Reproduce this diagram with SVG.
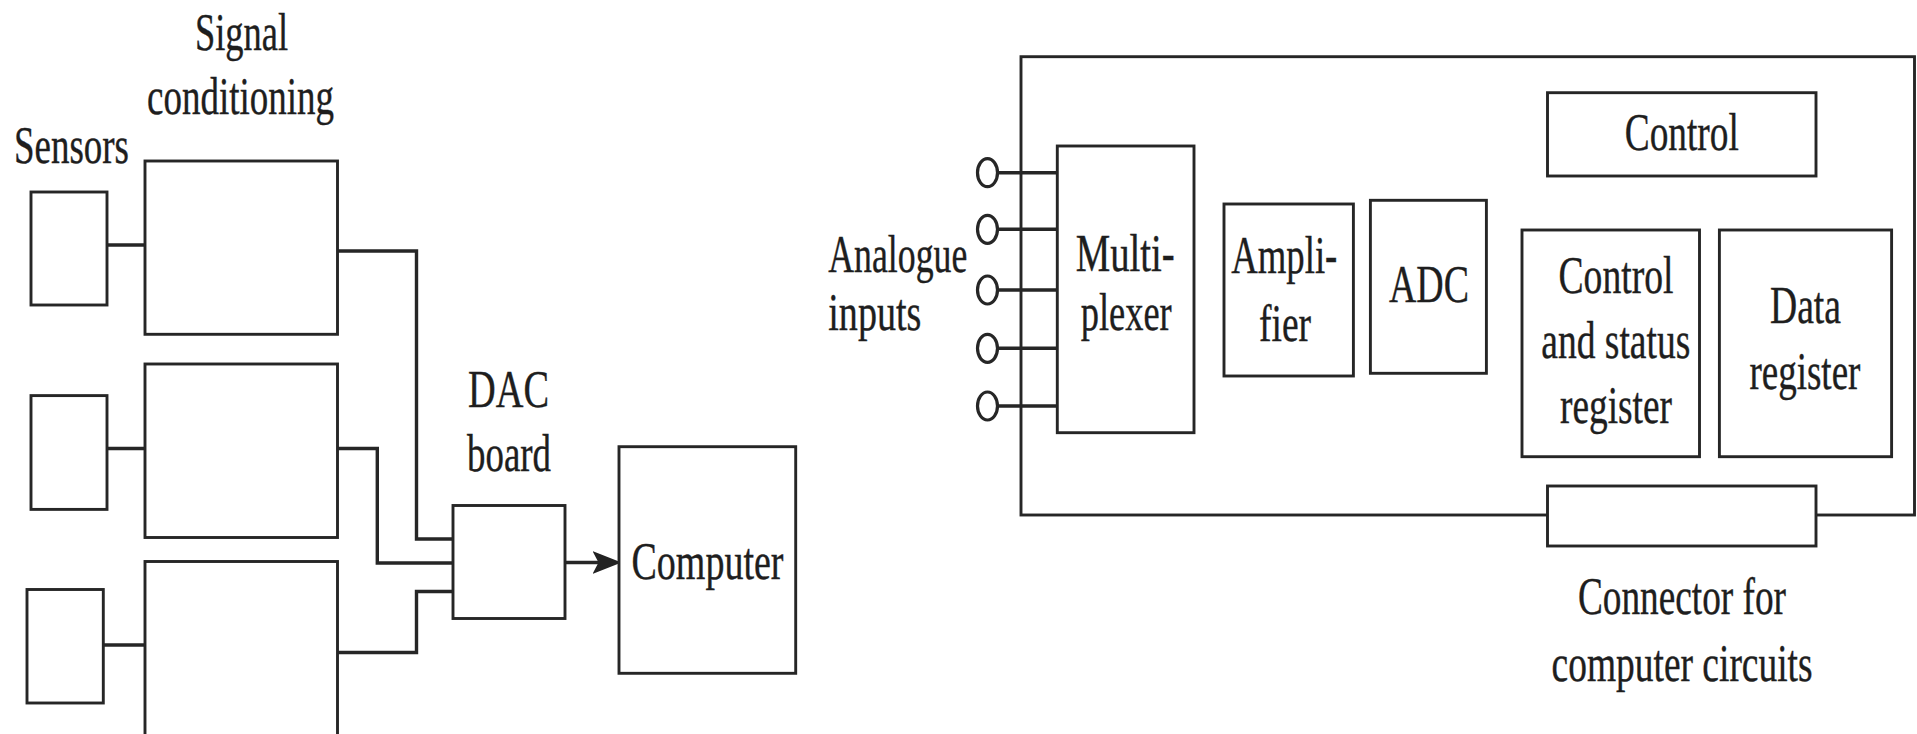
<svg xmlns="http://www.w3.org/2000/svg" width="1917" height="734" viewBox="0 0 1917 734">
<style>
.box{fill:#fff;stroke:#262626;stroke-width:2.9}
.wire{fill:none;stroke:#262626;stroke-width:3.4}
.term{fill:#fff;stroke:#262626;stroke-width:3.2}
text{font-family:"Liberation Serif","Times New Roman",serif;font-size:52px;fill:#1e1e1e;stroke:#1e1e1e;stroke-width:0.4}
</style>
<defs>
<marker id="arr" markerUnits="userSpaceOnUse" viewBox="0 0 29 23" refX="7.5" refY="11.5" markerWidth="29" markerHeight="23" orient="auto">
<path d="M0,0 L29,11.5 L0,23 L6,11.5 Z" fill="#222"/>
</marker>
</defs>
<rect width="1917" height="734" fill="#fff"/>

<g id="labels-left">
<text x="195" y="50" textLength="93" lengthAdjust="spacingAndGlyphs">Signal</text>
<text x="147" y="114" textLength="187" lengthAdjust="spacingAndGlyphs">conditioning</text>
<text x="14" y="163" textLength="115" lengthAdjust="spacingAndGlyphs">Sensors</text>
<text x="468" y="406.7" textLength="81" lengthAdjust="spacingAndGlyphs">DAC</text>
<text x="467" y="471" textLength="84" lengthAdjust="spacingAndGlyphs">board</text>
</g>

<g id="connectors">
<path class="wire" d="M107 245H145"/>
<path class="wire" d="M107 448.5H145"/>
<path class="wire" d="M104 645H145"/>
<path class="wire" d="M337.5 251H416.5V539H453"/>
<path class="wire" d="M337.5 448.5H377.3V563H453"/>
<path class="wire" d="M337.5 652.5H416.5V591.5H453"/>
<path class="wire" d="M565 562.5H600" marker-end="url(#arr)"/>
</g>

<g id="sensor1"><rect class="box" x="31" y="192" width="76" height="113"/></g>
<g id="sensor2"><rect class="box" x="31" y="395.6" width="76" height="113.8"/></g>
<g id="sensor3"><rect class="box" x="27" y="589.5" width="76.3" height="113.5"/></g>
<g id="conditioning1"><rect class="box" x="145" y="161" width="192.5" height="173.3"/></g>
<g id="conditioning2"><rect class="box" x="145" y="364" width="192.5" height="173.5"/></g>
<g id="conditioning3"><rect class="box" x="145" y="561.5" width="192.5" height="180"/></g>
<g id="dac"><rect class="box" x="453" y="505.5" width="112" height="113"/></g>
<g id="computer">
<rect class="box" x="619" y="446.7" width="176.7" height="226.6"/>
<text x="631.5" y="579" textLength="152" lengthAdjust="spacingAndGlyphs">Computer</text>
</g>

<g id="board">
<rect class="box" x="1021" y="56.7" width="893.5" height="458.3" style="fill:none"/>
</g>

<g id="inputs">
<text x="828.3" y="271.7" textLength="139" lengthAdjust="spacingAndGlyphs">Analogue</text>
<text x="828.3" y="330" textLength="93" lengthAdjust="spacingAndGlyphs">inputs</text>
<path class="wire" d="M997.5 172.7H1057.3M997.5 229.3H1057.3M997.5 290H1057.3M997.5 348.3H1057.3M997.5 406H1057.3"/>
<ellipse class="term" cx="987.5" cy="172.7" rx="10" ry="14"/>
<ellipse class="term" cx="987.5" cy="229.3" rx="10" ry="14"/>
<ellipse class="term" cx="987.5" cy="290" rx="10" ry="14"/>
<ellipse class="term" cx="987.5" cy="348.3" rx="10" ry="14"/>
<ellipse class="term" cx="987.5" cy="406" rx="10" ry="14"/>
</g>

<g id="multiplexer">
<rect class="box" x="1057.3" y="146" width="136.7" height="286.7"/>
<text x="1075.7" y="271" textLength="99" lengthAdjust="spacingAndGlyphs">Multi-</text>
<text x="1080.7" y="330" textLength="91" lengthAdjust="spacingAndGlyphs">plexer</text>
</g>
<g id="amplifier">
<rect class="box" x="1224" y="204" width="129.4" height="172"/>
<text x="1231.3" y="273.3" textLength="106" lengthAdjust="spacingAndGlyphs">Ampli-</text>
<text x="1259" y="340.7" textLength="52" lengthAdjust="spacingAndGlyphs">fier</text>
</g>
<g id="adc">
<rect class="box" x="1370.4" y="200.3" width="116" height="173"/>
<text x="1389" y="301.7" textLength="80" lengthAdjust="spacingAndGlyphs">ADC</text>
</g>
<g id="control">
<rect class="box" x="1547.5" y="92.7" width="268.5" height="83.3"/>
<text x="1624.8" y="150" textLength="114" lengthAdjust="spacingAndGlyphs">Control</text>
</g>
<g id="csr">
<rect class="box" x="1522" y="230" width="177.5" height="226.7"/>
<text x="1558.5" y="292.7" textLength="115" lengthAdjust="spacingAndGlyphs">Control</text>
<text x="1541.3" y="358.3" textLength="149" lengthAdjust="spacingAndGlyphs">and status</text>
<text x="1560" y="423.3" textLength="112" lengthAdjust="spacingAndGlyphs">register</text>
</g>
<g id="data-register">
<rect class="box" x="1719.4" y="230" width="172.2" height="226.7"/>
<text x="1770" y="323.3" textLength="71" lengthAdjust="spacingAndGlyphs">Data</text>
<text x="1749.4" y="389.3" textLength="111" lengthAdjust="spacingAndGlyphs">register</text>
</g>
<g id="connector">
<rect class="box" x="1547.5" y="486" width="268.5" height="60"/>
<text x="1578" y="614.3" textLength="208" lengthAdjust="spacingAndGlyphs">Connector for</text>
<text x="1551.6" y="681" textLength="261" lengthAdjust="spacingAndGlyphs">computer circuits</text>
</g>
</svg>
